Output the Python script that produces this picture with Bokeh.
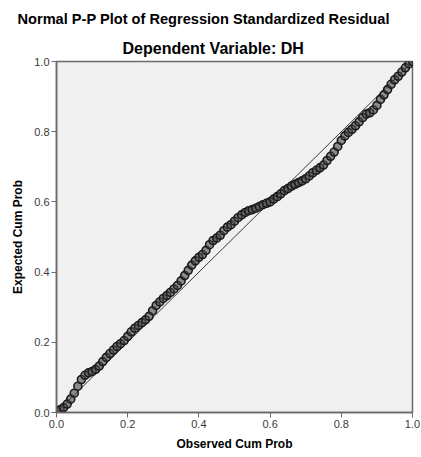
from bokeh.plotting import figure
from bokeh.models import Range1d, Title, FixedTicker, PrintfTickFormatter
from bokeh.embed import file_html
from bokeh.resources import INLINE

# Observed cumulative probability (x) and expected cumulative probability (y)
observed_cum_prob = [
    0.00, 0.01, 0.02, 0.03, 0.04, 0.05, 0.06, 0.07, 0.08, 0.09,
    0.10, 0.11, 0.12, 0.13, 0.14, 0.15, 0.16, 0.17, 0.18, 0.19,
    0.20, 0.21, 0.22, 0.23, 0.24, 0.25, 0.26, 0.27, 0.28, 0.29,
    0.30, 0.31, 0.32, 0.33, 0.34, 0.35, 0.36, 0.37, 0.38, 0.39,
    0.40, 0.41, 0.42, 0.43, 0.44, 0.45, 0.46, 0.47, 0.48, 0.49,
    0.50, 0.51, 0.52, 0.53, 0.54, 0.55, 0.56, 0.57, 0.58, 0.59,
    0.60, 0.61, 0.62, 0.63, 0.64, 0.65, 0.66, 0.67, 0.68, 0.69,
    0.70, 0.71, 0.72, 0.73, 0.74, 0.75, 0.76, 0.77, 0.78, 0.79,
    0.80, 0.81, 0.82, 0.83, 0.84, 0.85, 0.86, 0.87, 0.88, 0.89,
    0.90, 0.91, 0.92, 0.93, 0.94, 0.95, 0.96, 0.97, 0.98, 0.99, 1.00,
]
expected_cum_prob = [
    0.003, 0.008, 0.014, 0.024, 0.038, 0.055, 0.075, 0.094, 0.106, 0.113,
    0.117, 0.123, 0.132, 0.145, 0.157, 0.168, 0.178, 0.188, 0.196, 0.205,
    0.217, 0.230, 0.240, 0.248, 0.256, 0.264, 0.274, 0.290, 0.305, 0.315,
    0.325, 0.333, 0.342, 0.352, 0.362, 0.375, 0.390, 0.405, 0.420, 0.432,
    0.442, 0.450, 0.462, 0.478, 0.490, 0.497, 0.505, 0.518, 0.528, 0.535,
    0.545, 0.555, 0.563, 0.570, 0.575, 0.578, 0.582, 0.587, 0.592, 0.596,
    0.600, 0.608, 0.615, 0.623, 0.632, 0.638, 0.645, 0.650, 0.655, 0.660,
    0.666, 0.674, 0.683, 0.690, 0.697, 0.705, 0.718, 0.730, 0.742, 0.758,
    0.775, 0.788, 0.798, 0.807, 0.817, 0.828, 0.840, 0.850, 0.854, 0.862,
    0.875, 0.892, 0.905, 0.920, 0.935, 0.948, 0.958, 0.970, 0.982, 0.993, 1.000,
]
reference_line = [0.0, 1.0]
tick_values = [0.0, 0.2, 0.4, 0.6, 0.8, 1.0]

title_text = "Normal P-P Plot of Regression Standardized Residual"
subtitle_text = "Dependent Variable: DH"
x_label = "Observed Cum Prob"
y_label = "Expected Cum Prob"

FONT = "Liberation Sans"

p = figure(
    frame_width=356, frame_height=351,
    min_border_left=56, min_border_right=8, min_border_top=61, min_border_bottom=44,
    x_range=Range1d(0, 1), y_range=Range1d(0, 1),
    output_backend="svg", toolbar_location=None,
    background_fill_color="#f0f0f0", border_fill_color="white",
)

p.add_layout(Title(text=subtitle_text, align="left", offset=66, text_font=FONT,
                   text_font_size="16px", text_font_style="bold", text_color="#000000"), "above")
p.add_layout(Title(text=title_text, align="left", offset=-39, standoff=12, text_font=FONT,
                   text_font_size="14.6px", text_font_style="bold", text_color="#000000"), "above")

p.grid.visible = False
p.outline_line_color = "#6a6a6a"
p.outline_line_width = 1.5

for ax in (p.xaxis[0], p.yaxis[0]):
    ax.ticker = FixedTicker(ticks=tick_values)
    ax.formatter = PrintfTickFormatter(format="%.1f")
    ax.minor_tick_line_color = None
    ax.major_tick_out = 5
    ax.major_tick_in = 0
    ax.major_tick_line_color = "#6a6a6a"
    ax.axis_line_color = "#6a6a6a"
    ax.axis_line_width = 1.5
    ax.major_label_text_font = FONT
    ax.major_label_text_font_size = "11px"
    ax.major_label_text_color = "#3a3a3a"
    ax.major_label_standoff = 2
    ax.axis_label_text_font = FONT
    ax.axis_label_text_font_size = "12px"
    ax.axis_label_text_font_style = "bold"
    ax.axis_label_text_color = "#000000"
    ax.axis_label_standoff = 6

p.xaxis.axis_label = x_label
p.yaxis.axis_label = y_label

p.line(reference_line, reference_line, line_color="#3a3a3a", line_width=1.0)
p.scatter(observed_cum_prob, expected_cum_prob, marker="circle", size=8,
          line_color="#1a1a1a", line_width=1.6, fill_color="#4a4a4a", fill_alpha=0.6)

open("out.html", "w").write(file_html(p, INLINE))
